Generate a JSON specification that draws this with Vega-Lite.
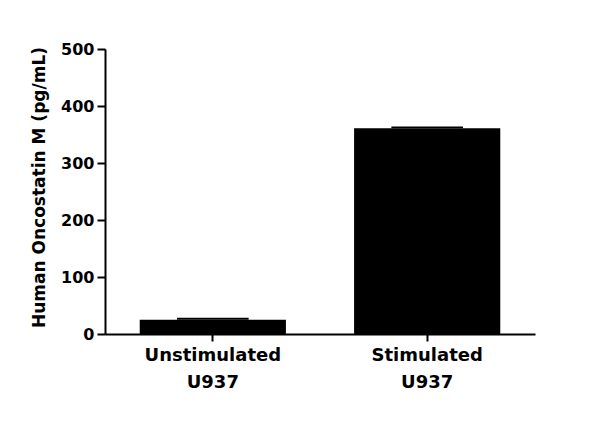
{
  "$schema": "https://vega.github.io/schema/vega-lite/v6.json",
  "autosize": {"type": "none"},
  "padding": {"left": 105, "top": 49, "right": 65, "bottom": 95},
  "width": 430,
  "height": 285,
  "background": "white",
  "config": {
    "view": {"stroke": null},
    "font": "DejaVu Sans"
  },
  "data": {
    "values": [
      {"group": "Unstimulated U937", "value": 25, "upper": 28.6},
      {"group": "Stimulated U937", "value": 361, "upper": 364}
    ]
  },
  "encoding": {
    "x": {
      "field": "group",
      "type": "nominal",
      "sort": null,
      "scale": {"paddingInner": 0.318, "paddingOuter": 0.162},
      "axis": {
        "title": null,
        "labelAngle": 0,
        "labelExpr": "split(datum.label, ' ')",
        "labelFont": "DejaVu Sans",
        "labelFontSize": 18,
        "labelFontWeight": "bold",
        "labelColor": "black",
        "labelLineHeight": 27,
        "labelPadding": 5,
        "tickSize": 7,
        "tickWidth": 2,
        "tickColor": "black",
        "domainWidth": 2,
        "domainColor": "black"
      }
    }
  },
  "layer": [
    {
      "mark": {"type": "bar", "color": "black"},
      "encoding": {
        "y": {
          "field": "value",
          "type": "quantitative",
          "scale": {"domain": [0, 500], "nice": false},
          "axis": {
            "title": "Human Oncostatin M (pg/mL)",
            "titleFont": "DejaVu Sans",
            "titleFontSize": 17,
            "titleFontWeight": "bold",
            "titleColor": "black",
            "titleX": -61,
            "titleY": 138,
            "titleBaseline": "alphabetic",
            "titleAlign": "center",
            "titleAngle": -90,
            "values": [0, 50, 100, 150, 200, 250, 300, 350, 400, 450, 500],
            "labelExpr": "datum.value % 100 === 0 ? datum.label : ''",
            "labelFont": "DejaVu Sans",
            "labelFontSize": 16,
            "labelFontWeight": "bold",
            "labelColor": "black",
            "labelPadding": 3,
            "tickSize": {"condition": {"test": "datum.value % 100 === 0", "value": 8}, "value": 4},
            "tickWidth": 2,
            "tickColor": "black",
            "domainWidth": 2,
            "domainColor": "black",
            "grid": false
          }
        }
      }
    },
    {
      "mark": {"type": "bar", "color": "black", "width": {"band": 0.49}},
      "encoding": {
        "y": {"field": "value", "type": "quantitative"},
        "y2": {"field": "upper"}
      }
    }
  ]
}
